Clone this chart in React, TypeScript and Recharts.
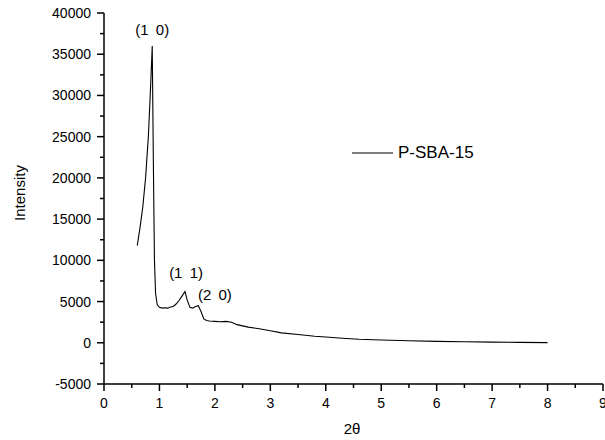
import { LineChart, Line, XAxis, YAxis, Legend, ReferenceDot, Label } from "recharts";

const theta = [
  0.6, 0.65, 0.7, 0.75, 0.8, 0.84, 0.87, 0.89, 0.91, 0.93, 0.96, 1.0, 1.05, 1.1, 1.15, 1.2,
  1.25, 1.3, 1.35, 1.4, 1.46, 1.5, 1.55, 1.6, 1.65, 1.7, 1.75, 1.8, 1.85, 1.9, 2.0, 2.1,
  2.2, 2.3, 2.4, 2.5, 2.6, 2.8, 3.0, 3.2, 3.5, 3.8, 4.0, 4.3, 4.6, 5.0, 5.5, 6.0, 6.5, 7.0,
  7.5, 8.0,
];
const intensity = [
  11800, 14000, 16500, 20000, 25000, 31000, 36000, 22000, 10000, 6000, 4600, 4300, 4200, 4250,
  4200, 4350, 4400, 4700, 5100, 5600, 6200, 5200, 4300, 4200, 4400, 4500, 3800, 2900, 2700,
  2650, 2600, 2550, 2600, 2500, 2200, 2050, 1900, 1700, 1450, 1200, 1000, 800, 700, 550, 420,
  330, 250, 170, 120, 80, 50, 20,
];

const xTicks = [0, 0.5, 1, 1.5, 2, 2.5, 3, 3.5, 4, 4.5, 5, 5.5, 6, 6.5, 7, 7.5, 8, 8.5, 9];
const yTicks = [
  -5000, -2500, 0, 2500, 5000, 7500, 10000, 12500, 15000, 17500, 20000, 22500, 25000, 27500,
  30000, 32500, 35000, 37500, 40000,
];

const peaks = [
  { label: "(1 0)", x: 0.87, y: 38000 },
  { label: "(1 1)", x: 1.48, y: 8470 },
  { label: "(2 0)", x: 2.0, y: 5800 },
];

const FONT = "'Liberation Sans', Arial, Helvetica, sans-serif";

const data = theta.map((t, i) => ({ theta: t, intensity: intensity[i] }));

function XTick({ x, y, payload }: any) {
  const major = Number.isInteger(payload.value);
  return (
    <g>
      <line x1={x} x2={x} y1={y} y2={y + (major ? 7 : 4)} stroke="#000" strokeWidth={1.5} />
      {major && (
        <text x={x} y={y + 24} textAnchor="middle" fontSize={14} fill="#000" fontFamily={FONT}>
          {payload.value}
        </text>
      )}
    </g>
  );
}

function YTick({ x, y, payload }: any) {
  const major = payload.value % 5000 === 0;
  return (
    <g>
      <line x1={x - (major ? 7 : 4)} x2={x} y1={y} y2={y} stroke="#000" strokeWidth={1.5} />
      {major && (
        <text x={x - 13} y={y + 5} textAnchor="end" fontSize={14} fill="#000" fontFamily={FONT}>
          {payload.value}
        </text>
      )}
    </g>
  );
}

function LegendBox() {
  return (
    <div style={{ display: "flex", alignItems: "center", fontFamily: FONT }}>
      <svg width={41} height={4}>
        <line x1={0} x2={41} y1={2} y2={2} stroke="#000" strokeWidth={1.2} />
      </svg>
      <span style={{ marginLeft: 5, fontSize: 17, color: "#000" }}>P-SBA-15</span>
    </div>
  );
}

export default function App() {
  return (
    <div style={{ position: "absolute", left: 0, top: 0, background: "#fff" }}>
      <LineChart
        width={605}
        height={440}
        data={data}
        margin={{ top: 13, right: 2, left: 0, bottom: 0 }}
      >
        <XAxis
          dataKey="theta"
          type="number"
          domain={[0, 9]}
          ticks={xTicks}
          interval={0}
          tick={<XTick />}
          tickSize={0}
          tickMargin={0}
          tickLine={false}
          height={56}
          axisLine={{ stroke: "#000", strokeWidth: 1.5 }}
        >
          <Label
            content={() => (
              <text x={352} y={434} textAnchor="middle" fontSize={15} fill="#000" fontFamily={FONT}>
                2θ
              </text>
            )}
          />
        </XAxis>
        <YAxis
          type="number"
          domain={[-5000, 40000]}
          ticks={yTicks}
          interval={0}
          tick={<YTick />}
          tickSize={0}
          tickMargin={0}
          tickLine={false}
          width={104}
          axisLine={{ stroke: "#000", strokeWidth: 1.5 }}
        >
          <Label
            content={() => (
              <text
                x={25}
                y={193}
                textAnchor="middle"
                fontSize={15}
                fill="#000"
                fontFamily={FONT}
                transform="rotate(-90 25 193)"
              >
                Intensity
              </text>
            )}
          />
        </YAxis>
        <Legend
          layout="horizontal"
          verticalAlign="middle"
          align="center"
          content={<LegendBox />}
          wrapperStyle={{ top: 143, left: 352, width: "auto" }}
        />
        {peaks.map((p) => (
          <ReferenceDot
            key={p.label}
            x={p.x}
            y={p.y}
            r={0}
            ifOverflow="visible"
            label={{
              value: p.label,
              position: "center",
              fontSize: 15,
              fill: "#000",
              fontFamily: FONT,
              wordSpacing: 3,
            }}
          />
        ))}
        <Line
          dataKey="intensity"
          type="linear"
          stroke="#000"
          strokeWidth={1.1}
          dot={false}
          isAnimationActive={false}
          legendType="line"
          name="P-SBA-15"
        />
      </LineChart>
    </div>
  );
}
